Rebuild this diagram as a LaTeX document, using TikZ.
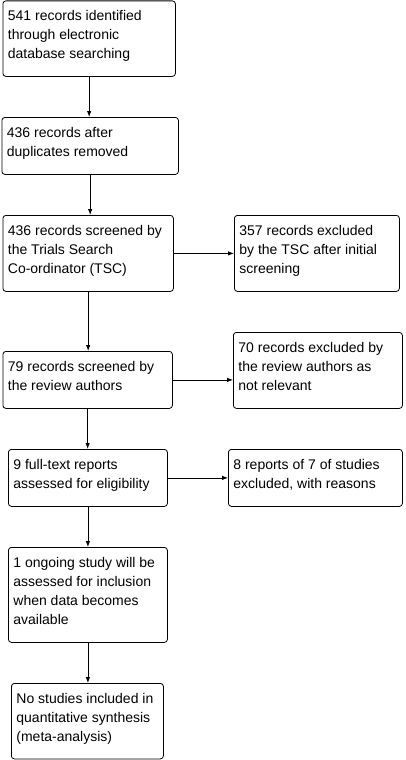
\documentclass[tikz,border=0pt]{standalone}
\usepackage{fontspec}
\setmainfont{Liberation Sans}
\usetikzlibrary{positioning, calc, arrows.meta}
\newcommand{\flowtxt}[3]{\parbox[t][#2pt][t]{#1pt}{\raggedright\rule{0pt}{20pt}#3}}
\tikzset{
    flowbox/.style={
        draw, line width=0.8pt, rounded corners=3pt, anchor=north west,
        inner xsep=5pt, inner ysep=0pt, font=\fontsize{14}{19}\selectfont
    },
    flowptr/.style={
        -{Latex[length=6pt,width=4.5pt]}, line width=0.8pt
    }
}

\begin{document}
\begin{tikzpicture}[x=1pt, y=-1pt]
        \useasboundingbox (0,0) rectangle (405,760);

        % Hauptspalte
        \node[flowbox] (n541) at (2.5,0.5) {\flowtxt{162.5}{75.5}{541 records identified\\through electronic\\database searching}};
        \node[flowbox] (n436a) at (1.5,117) {\flowtxt{166.5}{57}{436 records after\\duplicates removed}};
        \node[flowbox] (n436s) at (2.5,215) {\flowtxt{160.5}{76}{436 records screened by\\the Trials Search\\Co-ordinator (TSC)}};
        \node[flowbox] (n79) at (2.5,351) {\flowtxt{159.5}{57}{79 records screened by\\the review authors}};
        \node[flowbox] (n9) at (8,449) {\flowtxt{149}{57}{9 full-text reports\\assessed for eligibility}};
        \node[flowbox] (n1) at (8,547) {\flowtxt{149}{95}{1 ongoing study will be\\assessed for inclusion\\when data becomes\\available}};
        \node[flowbox] (n0) at (11,683) {\flowtxt{142}{75.5}{No studies included in\\quantitative synthesis\\(meta-analysis)}};

        % Ausschluesse rechts
        \node[flowbox] (n357) at (234,215) {\flowtxt{155}{76}{357 records excluded\\by the TSC after initial\\screening}};
        \node[flowbox] (n70) at (233,332) {\flowtxt{159}{76}{70 records excluded by\\the review authors as\\not relevant}};
        \node[flowbox] (n8) at (228,449) {\flowtxt{164}{57}{8 reports of 7 of studies\\excluded, with reasons}};

        % Pfeile nach unten
        \draw[flowptr] (n541.south) -- (n541.south |- n436a.north);
        \draw[flowptr] (n436a.south) -- (n436a.south |- n436s.north);
        \draw[flowptr] (n436s.south) -- (n436s.south |- n79.north);
        \draw[flowptr] (n79.south) -- (n79.south |- n9.north);
        \draw[flowptr] (n9.south) -- (n9.south |- n1.north);
        \draw[flowptr] (n1.south) -- (n1.south |- n0.north);

        % Pfeile nach rechts
        \draw[flowptr] (n436s.east) -- (n436s.east -| n357.west);
        \draw[flowptr] (n79.east) -- (n79.east -| n70.west);
        \draw[flowptr] (n9.east) -- (n9.east -| n8.west);

    \end{tikzpicture}
\end{document}
